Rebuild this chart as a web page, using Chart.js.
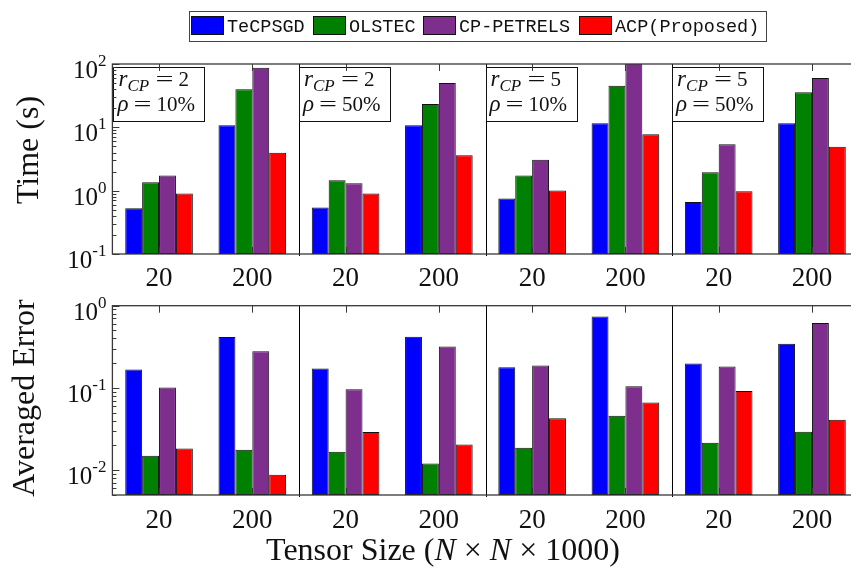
<!DOCTYPE html>
<html>
<head>
<meta charset="utf-8">
<script src="https://cdn.jsdelivr.net/npm/chart.js@4.4.0/dist/chart.umd.min.js"></script>
<style>
  html, body { margin: 0; padding: 0; background: #fff; overflow: hidden; }
  #wrap { position: relative; width: 851px; height: 570px; overflow: hidden; }
  #topChart { position: absolute; left: 0; top: 0; }
  #botChart { position: absolute; left: 0; top: 290px; }
</style>
</head>
<body>
<div id="wrap">
  <canvas id="topChart" width="870" height="290"></canvas>
  <canvas id="botChart" width="870" height="280"></canvas>
</div>
<script>
// ---- data ----
const sizeLabels = ["20", "200", "20", "200", "20", "200", "20", "200"];
const methods = ["TeCPSGD", "OLSTEC", "CP-PETRELS", "ACP(Proposed)"];

const timeTeCPSGD   = [0.53, 10.8, 0.54, 10.8, 0.75, 11.6, 0.66, 11.6];
const timeOLSTEC    = [1.36, 39.9, 1.46, 23.4, 1.73, 45.5, 1.95, 35.7];
const timeCPPETRELS = [1.73, 87.5, 1.31, 50.1, 3.08, 120, 5.4, 60.1];
const timeACP       = [0.9, 3.98, 0.9, 3.62, 1.01, 7.75, 0.98, 4.95];

const errTeCPSGD   = [0.168, 0.415, 0.172, 0.419, 0.179, 0.741, 0.198, 0.344];
const errOLSTEC    = [0.015, 0.0177, 0.0168, 0.0121, 0.0188, 0.046, 0.0216, 0.0294];
const errCPPETRELS = [0.101, 0.28, 0.0964, 0.319, 0.187, 0.105, 0.182, 0.615];
const errACP       = [0.0184, 0.0088, 0.0291, 0.0206, 0.0427, 0.0664, 0.092, 0.0411];

const timeTicks = [0.1, 1, 10, 100];
const errTicks = [0.01, 0.1, 1];

const settingRank = [2, 2, 5, 5];
const settingRho = ["10%", "50%", "10%", "50%"];

// ---- styles ----
const COLORS = ["#0000ff", "#008000", "#7e2f8e", "#ff0000"];
const SERIF = "'Liberation Serif', 'DejaVu Serif', serif";
const MONO = "'Liberation Mono', 'DejaVu Sans Mono', monospace";
const AXIS = "#383838";

function makeSets(series) {
  return series.map((vals, i) => ({
    label: methods[i],
    data: vals,
    backgroundColor: COLORS[i],
    borderColor: "#111",
    borderWidth: 1,
    borderSkipped: false,
    categoryPercentage: 0.725,
    barPercentage: 1.0,
  }));
}

// wide math-style "=" sign (text stretched sideways)
function wideEquals(ctx, cx, base) {
  ctx.save();
  ctx.font = "22px " + SERIF;
  ctx.textAlign = "center";
  ctx.translate(cx, base);
  ctx.scale(1.45, 1);
  ctx.fillText("=", 0, 0);
  ctx.restore();
}

// frame, ticks, labels, separators, notes drawn on top of the bars
const framePlugin = {
  id: "frame",
  afterDatasetsDraw(chart, args, o) {
    const { ctx, chartArea: a, scales: { x, y } } = chart;
    ctx.save();

    // group separators
    ctx.strokeStyle = "#000";
    ctx.lineWidth = 1;
    [1, 3, 5].forEach((i) => {
      const px = Math.round((x.getPixelForValue(i) + x.getPixelForValue(i + 1)) / 2) + 0.5;
      ctx.beginPath();
      ctx.moveTo(px, a.top);
      ctx.lineTo(px, a.bottom + 2);
      ctx.stroke();
    });

    // setting boxes
    if (o.notes) {
      settingRank.forEach((r, k) => {
        const bx = k === 0 ? a.left + 1 : (x.getPixelForValue(2 * k - 1) + x.getPixelForValue(2 * k)) / 2;
        const by = a.top + 3;
        ctx.fillStyle = "#fff";
        ctx.fillRect(bx, by, 91, 54);
        ctx.strokeStyle = "#111";
        ctx.lineWidth = 1;
        ctx.strokeRect(Math.round(bx) + 0.5, by + 0.5, 91, 54);
        ctx.fillStyle = "#111";
        ctx.textAlign = "left";
        ctx.textBaseline = "alphabetic";
        ctx.font = "italic 23px " + SERIF;
        ctx.fillText("r", bx + 5, 86);
        ctx.font = "italic 17px " + SERIF;
        ctx.fillText("CP", bx + 14, 91);
        wideEquals(ctx, bx + 51, 86);
        ctx.font = "21px " + SERIF;
        ctx.fillText(String(r), bx + 65, 86);
        ctx.font = "italic 23px " + SERIF;
        ctx.fillText("\u03C1", bx + 4, 111);
        wideEquals(ctx, bx + 29, 111);
        ctx.font = "21px " + SERIF;
        ctx.fillText(settingRho[k], bx + 43, 111);
      });
    }

    // axes box
    ctx.strokeStyle = AXIS;
    ctx.lineWidth = 1.3;
    ctx.strokeRect(a.left, a.top, a.right - a.left, a.bottom - a.top);

    // x ticks (inward, top and bottom)
    ctx.lineWidth = 1;
    sizeLabels.forEach((lab, i) => {
      const px = Math.round(x.getPixelForValue(i)) + 0.5;
      ctx.beginPath();
      ctx.moveTo(px, a.top); ctx.lineTo(px, a.top + 7);
      ctx.moveTo(px, a.bottom); ctx.lineTo(px, a.bottom - 7);
      ctx.stroke();
    });

    // y ticks, major + minor
    const lo = Math.floor(Math.log10(y.min)), hi = Math.ceil(Math.log10(y.max));
    for (let d = lo; d <= hi; d++) {
      for (let k = 1; k <= 9; k++) {
        const v = k * Math.pow(10, d);
        if (v < y.min * 0.999 || v > y.max * 1.001) continue;
        const py = Math.round(y.getPixelForValue(v)) + 0.5;
        const len = k === 1 ? 7 : 4;
        ctx.beginPath();
        ctx.moveTo(a.left, py); ctx.lineTo(a.left + len, py);
        ctx.moveTo(a.right, py); ctx.lineTo(a.right - len, py);
        ctx.stroke();
      }
    }

    // y tick labels 10^n
    ctx.fillStyle = "#111";
    ctx.textBaseline = "alphabetic";
    o.ticks.forEach((v) => {
      const py = y.getPixelForValue(v);
      const ex = String(Math.round(Math.log10(v)));
      ctx.font = "17px " + SERIF;
      const we = ctx.measureText(ex).width;
      ctx.textAlign = "right";
      ctx.fillText(ex, a.left - 6, py + 2);
      ctx.font = "25px " + SERIF;
      ctx.fillText("10", a.left - 6 - we, py + 14);
    });

    // x tick labels
    ctx.font = "27px " + SERIF;
    ctx.textAlign = "center";
    sizeLabels.forEach((lab, i) => {
      ctx.fillText(lab, x.getPixelForValue(i), a.bottom + o.labelGap);
    });

    // y title
    ctx.save();
    ctx.translate(o.titleX, o.titleY);
    ctx.rotate(-Math.PI / 2);
    ctx.font = "32px " + SERIF;
    ctx.textAlign = "center";
    ctx.fillText(o.title, 0, 0);
    ctx.restore();

    // x title
    if (o.xTitle) {
      const parts = [["Tensor Size (", ""], ["N", "italic "], [" \u00D7 ", ""], ["N", "italic "], [" \u00D7 1000)", ""]];
      let total = 0;
      parts.forEach(([t, s]) => { ctx.font = s + "32px " + SERIF; total += ctx.measureText(t).width; });
      let tx = 443 - total / 2;
      ctx.textAlign = "left";
      parts.forEach(([t, s]) => {
        ctx.font = s + "32px " + SERIF;
        ctx.fillText(t, tx, o.xTitle);
        tx += ctx.measureText(t).width;
      });
    }

    // legend
    if (o.legend) {
      ctx.fillStyle = "#fff";
      ctx.fillRect(189, 11, 577, 30);
      ctx.strokeStyle = "#444";
      ctx.lineWidth = 1;
      ctx.strokeRect(189.5, 11.5, 577, 30);
      const starts = [191, 313, 423, 579];
      ctx.font = "18.5px " + MONO;
      ctx.textAlign = "left";
      methods.forEach((m, i) => {
        ctx.fillStyle = COLORS[i];
        ctx.fillRect(starts[i], 16, 33, 19);
        ctx.strokeStyle = "#111";
        ctx.strokeRect(starts[i] + 0.5, 16.5, 32, 18);
        ctx.fillStyle = "#111";
        ctx.fillText(m, starts[i] + 36, 32);
      });
    }
    ctx.restore();
  },
};

function buildChart(id, series, yMin, yMax, pad, extra) {
  return new Chart(document.getElementById(id), {
    type: "bar",
    data: { labels: sizeLabels, datasets: makeSets(series) },
    options: {
      responsive: false,
      animation: false,
      layout: { padding: pad },
      plugins: { legend: { display: false }, tooltip: { enabled: false }, frame: extra },
      scales: {
        x: { display: false, offset: true },
        y: { type: "logarithmic", display: false, min: yMin, max: yMax },
      },
    },
    plugins: [framePlugin],
  });
}

buildChart("topChart", [timeTeCPSGD, timeOLSTEC, timeCPPETRELS, timeACP], 0.1, 100,
  { left: 112.4, top: 64, right: 11.4, bottom: 36 },
  { ticks: timeTicks, title: "Time (s)", titleX: 38, titleY: 150, labelGap: 32, notes: true, legend: true });

buildChart("botChart", [errTeCPSGD, errOLSTEC, errCPPETRELS, errACP], 0.005, 1,
  { left: 112.4, top: 15.7, right: 11.4, bottom: 75 },
  { ticks: errTicks, title: "Averaged Error", titleX: 34, titleY: 108, labelGap: 33, xTitle: 270 });
</script>
</body>
</html>
